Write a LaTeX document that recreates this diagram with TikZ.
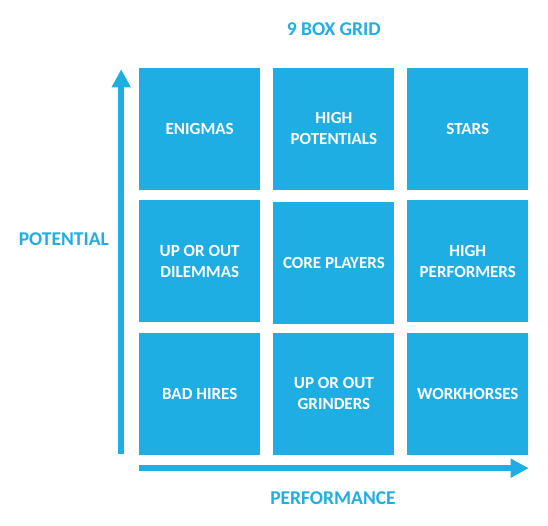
\documentclass[tikz,border=0pt]{standalone}
\usepackage{fontspec}
\setmainfont{Carlito}
\usetikzlibrary{arrows.meta}
\definecolor{gridblue}{HTML}{1FAEE3}

\begin{document}
\begin{tikzpicture}[
  x=1pt, y=-1pt,
  cell/.style={fill=gridblue, minimum width=121pt, minimum height=122pt, inner sep=0pt,
    align=center, text=white, font=\fontsize{17}{21}\selectfont\bfseries},
  axislabel/.style={text=gridblue, inner sep=0pt, font=\fontsize{19.5}{23}\selectfont\bfseries},
  axis/.style={draw=gridblue, line width=6pt, -{Triangle[length=18pt, width=18pt]}}
]
  \useasboundingbox (0,0) rectangle (548,525);
  \node[axislabel] (title) at (333.7,29) {9 BOX GRID};
  \node[cell] (enig) at (199.7,128.6) {ENIGMAS};
  \node[cell] (hipot) at (333.9,128.6) {HIGH\\POTENTIALS};
  \node[cell] (stars) at (467.8,128.6) {STARS};
  \node[cell] (upout) at (199.7,261) {UP OR OUT\\DILEMMAS};
  \node[cell] (core) at (333.9,262.5) {CORE PLAYERS};
  \node[cell] (hiperf) at (467.8,261) {HIGH\\PERFORMERS};
  \node[cell] (bad) at (199.7,393.5) {BAD HIRES};
  \node[cell] (grind) at (333.9,393.5) {UP OR OUT\\GRINDERS};
  \node[cell] (work) at (467.8,393.5) {WORKHORSES};
  \node[axislabel] (pot) at (63.8,238.7) {POTENTIAL};
  \node[axislabel] (perf) at (333,498) {PERFORMANCE};
  \coordinate (ybase) at (121.2,454.3);
  \coordinate (ytip) at (121.2,69.3);
  \coordinate (xbase) at (139.3,468.2);
  \coordinate (xtip) at (528.7,468.2);
  \draw[axis] (ybase) -- (ytip);
  \draw[axis] (xbase) -- (xtip);
\end{tikzpicture}
\end{document}
